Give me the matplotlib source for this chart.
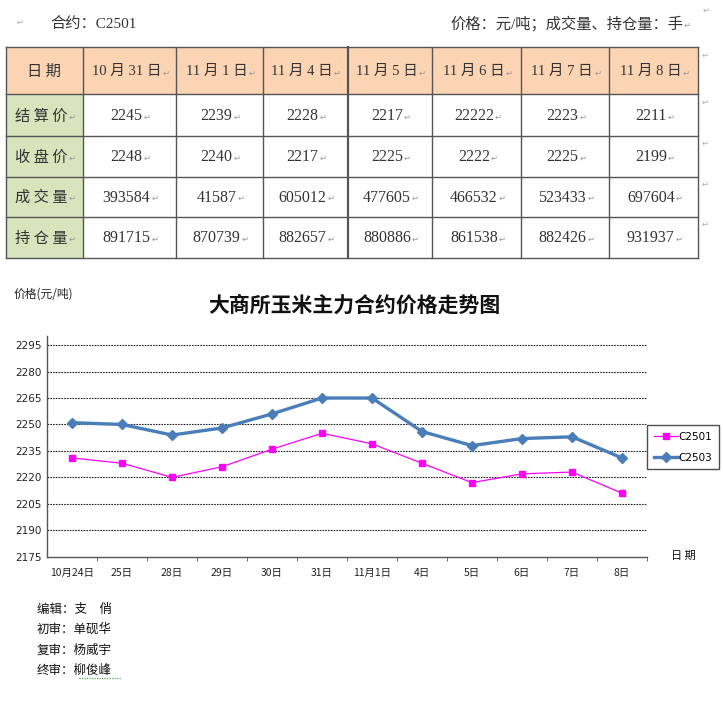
import matplotlib
matplotlib.use("Agg")
import matplotlib.pyplot as plt
from matplotlib.patches import Rectangle

# ---------------- data ----------------
table_dates = ["10 月 31 日", "11 月 1 日", "11 月 4 日", "11 月 5 日", "11 月 6 日", "11 月 7 日", "11 月 8 日"]
row_labels = ["结算价", "收盘价", "成交量", "持仓量"]
settle = ["2245", "2239", "2228", "2217", "22222", "2223", "2211"]
close_ = ["2248", "2240", "2217", "2225", "2222", "2225", "2199"]
volume = ["393584", "41587", "605012", "477605", "466532", "523433", "697604"]
oi = ["891715", "870739", "882657", "880886", "861538", "882426", "931937"]

chart_dates = ["10月24日", "25日", "28日", "29日", "30日", "31日", "11月1日", "4日", "5日", "6日", "7日", "8日"]
c2501 = [2231, 2228, 2220, 2226, 2236, 2245, 2239, 2228, 2217, 2222, 2223, 2211]
c2503 = [2251, 2250, 2244, 2248, 2256, 2265, 2265, 2246, 2238, 2242, 2243, 2231]
y_ticks = [2175, 2190, 2205, 2220, 2235, 2250, 2265, 2280, 2295]

editors = ["编辑：支　俏", "初审：单砚华", "复审：杨威宇", "终审：柳俊峰"]

CJK = ["Noto Sans CJK SC", "DejaVu Sans"]
SERIF = ["Liberation Serif", "Noto Sans CJK SC", "DejaVu Sans"]
plt.rcParams["font.family"] = CJK

W, H = 723, 715
fig = plt.figure(figsize=(W / 100, H / 100), dpi=100)
fig.patch.set_facecolor("white")

# overlay axes in pixel coordinates for table and free text
bg = fig.add_axes([0, 0, 1, 1])
bg.set_xlim(0, W)
bg.set_ylim(H, 0)
bg.axis("off")

ret_marks = []  # texts that get a small paragraph mark after them

# header line
bg.text(50, 24, "合约：C2501", fontsize=11, family=SERIF, color="#333333", va="center", ha="left")
bg.text(17, 22, "↵", fontsize=6, color="#aaaaaa", va="center", ha="left", family=["DejaVu Sans"])
t2 = bg.text(683, 24, "价格：元/吨；成交量、持仓量：手", fontsize=11, family=SERIF, color="#333333",
             va="center", ha="right")
ret_marks.append(t2)
bg.text(703, 10, "↵", fontsize=6, color="#aaaaaa", va="center", ha="left", family=["DejaVu Sans"])

# table
cols_x = [5.7, 82.7, 176.3, 262.7, 347.7, 432.3, 521.3, 609.3, 698.3]
rows_y = [47.3, 94.3, 135.7, 176.7, 216.7, 257.7]
head_col = "#FBD4B4"
lab_col = "#D7E4BC"
border = "#555555"

for j in range(len(cols_x) - 1):
    bg.add_patch(Rectangle((cols_x[j], rows_y[0]), cols_x[j + 1] - cols_x[j], rows_y[1] - rows_y[0],
                           facecolor=head_col, edgecolor="none"))
for i in range(1, len(rows_y) - 1):
    bg.add_patch(Rectangle((cols_x[0], rows_y[i]), cols_x[1] - cols_x[0], rows_y[i + 1] - rows_y[i],
                           facecolor=lab_col, edgecolor="none"))
for xv in cols_x:
    lw = 1.6 if xv == 347.7 else 1.0
    bg.plot([xv, xv], [rows_y[0], rows_y[-1]], color=border, lw=lw)
for yv in rows_y:
    bg.plot([cols_x[0], cols_x[-1]], [yv, yv], color=border, lw=1.0)

def cy(i):
    return (rows_y[i] + rows_y[i + 1]) / 2 + 1

def cx(j):
    return (cols_x[j] + cols_x[j + 1]) / 2

bg.text(cx(0), cy(0), "日 期", fontsize=11, color="#333333", ha="center", va="center")
for j, d in enumerate(table_dates):
    tt = bg.text(cx(j + 1) - 3, cy(0), d, fontsize=10.5, family=SERIF, color="#333333",
                 ha="center", va="center")
    ret_marks.append(tt)
for i, lab in enumerate(row_labels):
    tt = bg.text(cx(0) - 3, cy(i + 1), " ".join(lab), fontsize=11, color="#333333", ha="center", va="center")
    ret_marks.append(tt)
for i, row in enumerate([settle, close_, volume, oi]):
    for j, v in enumerate(row):
        tt = bg.text(cx(j + 1) - 3, cy(i + 1), v, fontsize=11.5, family=SERIF, color="#333333",
                     ha="center", va="center")
        ret_marks.append(tt)
for i in range(len(rows_y) - 1):
    bg.text(702, rows_y[i] + 8, "↵", fontsize=6, color="#aaaaaa", va="center", ha="left",
            family=["DejaVu Sans"])

# chart texts
bg.text(14, 294, "价格(元/吨)", fontsize=8.5, color="#222222", ha="left", va="center")
bg.text(354, 305, "大商所玉米主力合约价格走势图", fontsize=15, fontweight="bold", color="#111111",
        ha="center", va="center")
bg.text(683, 556, "日 期", fontsize=8, color="#111111", ha="center", va="center")

# editors
for k, e in enumerate(editors):
    bg.text(37, 609 + k * 20.5, e, fontsize=9, color="#111111", ha="left", va="center")
bg.plot([79, 121], [678, 678], color="#4caf50", lw=0.9, ls=(0, (1, 1)))

# ---------------- chart ----------------
left, right = 47, 647
top, bottom = 336.3, 556.7
ax = fig.add_axes([left / W, 1 - bottom / H, (right - left) / W, (bottom - top) / H])
ax.set_facecolor("none")
x = list(range(len(chart_dates)))
ax.plot(x, c2501, color="#FF00FF", lw=0.9, marker="s", ms=4.5, label="C2501", zorder=3)
ax.plot(x, c2503, color="#4A7EBB", lw=2.4, marker="D", ms=5.5, label="C2503", zorder=4)
ax.set_xlim(-0.5, len(chart_dates) - 0.5)
ax.set_ylim(2175, 2300)
ax.set_yticks(y_ticks)
ax.set_yticklabels([str(v) for v in y_ticks], fontsize=7.5, family=["DejaVu Sans"], color="#222222")
ax.set_xticks(x)
ax.set_xticklabels(chart_dates, fontsize=7.5, color="#222222")
ax.set_xticks([k + 0.5 for k in x], minor=True)
ax.tick_params(axis="x", which="major", length=0, pad=8)
ax.tick_params(axis="x", which="minor", length=3, direction="out", color="#555555")
ax.tick_params(axis="y", length=0, pad=4)
for yv in y_ticks[1:]:
    ax.axhline(yv, color="#222222", lw=0.8, ls=(0, (1.5, 1)), zorder=1)
ax.spines["top"].set_visible(False)
ax.spines["right"].set_visible(False)
for s in ("left", "bottom"):
    ax.spines[s].set_color("#555555")
    ax.spines[s].set_linewidth(1.0)

leg = ax.legend(loc="upper left", bbox_to_anchor=(647 / W, 1 - 425 / H), bbox_transform=fig.transFigure,
                frameon=True, fancybox=False, fontsize=7.5, handlelength=2.3, handletextpad=0.05,
                borderpad=0.65, labelspacing=1.05, borderaxespad=0)
leg.get_frame().set_edgecolor("#222222")
leg.get_frame().set_linewidth(1.0)
for txt in leg.get_texts():
    txt.set_family(["DejaVu Sans"])

# paragraph marks after cell texts
fig.canvas.draw()
r = fig.canvas.get_renderer()
for tt in ret_marks:
    bb = tt.get_window_extent(renderer=r)
    xd, yd = bg.transData.inverted().transform((bb.x1 + 1, (bb.y0 + bb.y1) / 2))
    bg.text(xd, yd + 1, "↵", fontsize=6, color="#999999", ha="left", va="center", family=["DejaVu Sans"])

fig.savefig("out.png", dpi=100, facecolor="white")
